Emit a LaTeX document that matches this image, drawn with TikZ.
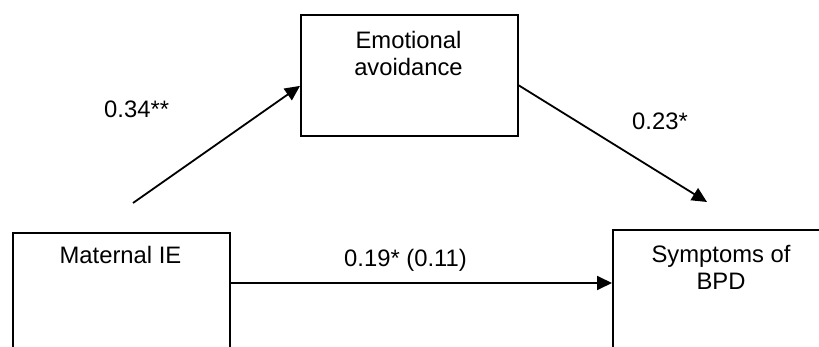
\documentclass[tikz,border=0pt]{standalone}
\usepackage{fontspec}
\setmainfont{Liberation Sans}
\usetikzlibrary{arrows.meta}
\begin{document}
\begin{tikzpicture}[x=1pt,y=-1pt,
  box/.style={draw,line width=1.8pt,rectangle,inner sep=0pt,anchor=north west},
  txt/.style={inner sep=0pt,font=\fontsize{23.8}{26.5}\selectfont,align=center},
  conn/.style={draw,line width=1.8pt,-{Triangle[length=15pt,width=14pt]}}]
  % page frame and clipping of the open boxes
  \useasboundingbox (0,0) rectangle (819,347);
  \clip (0,0) rectangle (819,347);

  % boxes
  \node[box,minimum width=217pt,minimum height=160pt] (mat) at (12,232) {};
  \node[box,minimum width=217pt,minimum height=121pt] (emo) at (300,14) {};
  \node[box,minimum width=240pt,minimum height=160pt] (sym) at (612,229) {};

  % box texts
  \node[txt,anchor=base] (matT) at (120.5,264) {Maternal IE};
  \node[txt,anchor=north] (emoT) at (408.5,31.5) {Emotional\\avoidance};
  \node[txt,anchor=north] (symT) at (721,245.5) {Symptoms of\\BPD};

  % paths
  \coordinate (a0) at (133,203);
  \coordinate (b1) at (707,202);
  \draw[conn] (a0) -- ([yshift=-10.5pt]emo.west);
  \draw[conn] ([yshift=-10pt]emo.east) -- (b1);
  \draw[conn] (mat.north east) ++(0,51) coordinate (h0) -- (h0 -| sym.west);

  % coefficients
  \node[txt,anchor=base west] (c1) at (104,118) {0.34**};
  \node[txt,anchor=base west] (c2) at (632,130) {0.23*};
  \node[txt,anchor=base west] (c3) at (344,267) {0.19* (0.11)};
\end{tikzpicture}
\end{document}
